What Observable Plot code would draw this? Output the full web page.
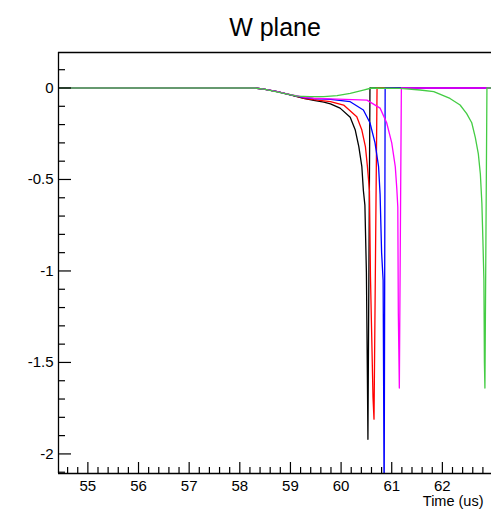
<!DOCTYPE html>
<html>
<head>
<meta charset="utf-8">
<script src="https://cdn.jsdelivr.net/npm/d3@7"></script>
<script src="https://cdn.jsdelivr.net/npm/@observablehq/plot@0.6"></script>
<style>
  html, body { margin: 0; padding: 0; background: #fff; }
  #chart { width: 491px; height: 515px; overflow: hidden; }
</style>
</head>
<body>
<div id="chart"></div>
<script>
// ---- data ----
const title = "W plane";
const xLabel = "Time (us)";

const blackT = [54.42, 58.3, 58.5, 58.74, 59.0, 59.26, 59.46, 59.66, 59.79, 59.98, 60.18, 60.28, 60.35, 60.41, 60.44, 60.47, 60.5, 60.52, 60.53, 60.57, 62.97];
const blackV = [0, 0, -0.008, -0.02, -0.038, -0.057, -0.068, -0.077, -0.087, -0.11, -0.16, -0.23, -0.32, -0.43, -0.56, -0.64, -1.01, -1.6, -1.92, 0, 0];

const redT = [54.42, 58.3, 58.5, 58.74, 59.0, 59.26, 59.46, 59.66, 59.79, 60.05, 60.31, 60.41, 60.48, 60.52, 60.56, 60.58, 60.63, 60.65, 60.71, 62.97];
const redV = [0, 0, -0.008, -0.02, -0.038, -0.056, -0.064, -0.07, -0.074, -0.093, -0.157, -0.23, -0.32, -0.43, -0.56, -1.03, -1.69, -1.81, 0, 0];

const blueT = [54.42, 58.3, 58.5, 58.74, 59.0, 59.26, 59.46, 59.79, 60.18, 60.44, 60.57, 60.67, 60.74, 60.77, 60.8, 60.83, 60.84, 60.85, 60.87, 62.97];
const blueV = [0, 0, -0.008, -0.02, -0.037, -0.052, -0.058, -0.062, -0.075, -0.12, -0.19, -0.3, -0.43, -0.58, -0.9, -1.05, -1.63, -2.3, 0, 0];

const magentaT = [54.42, 58.3, 58.5, 58.74, 59.0, 59.26, 59.46, 59.79, 60.51, 60.77, 60.9, 61.0, 61.07, 61.1, 61.12, 61.13, 61.14, 61.15, 61.19, 62.97];
const magentaV = [0, 0, -0.008, -0.02, -0.036, -0.05, -0.056, -0.06, -0.066, -0.11, -0.19, -0.3, -0.43, -0.55, -0.65, -1.23, -1.43, -1.64, 0, 0];

const greenT = [54.42, 58.3, 58.5, 58.87, 59.13, 59.39, 59.66, 59.92, 60.18, 60.44, 60.6, 61.17, 61.56, 61.83, 62.15, 62.35, 62.48, 62.58, 62.65, 62.71, 62.75, 62.78, 62.8, 62.82, 62.83, 62.84, 62.88, 62.97];
const greenV = [0, 0, -0.008, -0.029, -0.044, -0.047, -0.047, -0.042, -0.029, -0.011, 0, -0.002, -0.011, -0.02, -0.057, -0.093, -0.14, -0.19, -0.27, -0.36, -0.47, -0.63, -0.83, -1.05, -1.5, -1.64, 0, 0];

const seriesNames = ["s1", "s2", "s3", "s4", "s5"];
const seriesColors = ["#000000", "#ff0000", "#0000ff", "#ff00ff", "#44cc44"];

const xMajorTicks = [55, 56, 57, 58, 59, 60, 61, 62];
const xMinorTicks = [54.6, 54.8, 55.2, 55.4, 55.6, 55.8, 56.2, 56.4, 56.6, 56.8, 57.2, 57.4, 57.6, 57.8, 58.2, 58.4, 58.6, 58.8, 59.2, 59.4, 59.6, 59.8, 60.2, 60.4, 60.6, 60.8, 61.2, 61.4, 61.6, 61.8, 62.2, 62.4, 62.6, 62.8];
const yMajorTicks = [-2, -1.5, -1, -0.5, 0];
const yMinorTicks = [-2.1, -1.9, -1.8, -1.7, -1.6, -1.4, -1.3, -1.2, -1.1, -0.9, -0.8, -0.7, -0.6, -0.4, -0.3, -0.2, -0.1, 0.1];

const xDomain = [54.42, 62.97];
const yDomain = [-2.107, 0.194];

// ---- build table ----
const seriesT = [blackT, redT, blueT, magentaT, greenT];
const seriesV = [blackV, redV, blueV, magentaV, greenV];
const rows = [];
seriesNames.forEach((name, i) => {
  seriesT[i].forEach((t, j) => rows.push({series: name, t, v: seriesV[i][j]}));
});

const W = 491, H = 515;
const mL = 58, mR = 0, mT = 52, mB = 42;
const plotW = W - mL - mR, plotH = H - mT - mB;
const font = "'Liberation Sans', Arial, Helvetica, sans-serif";

const chart = Plot.plot({
  width: W,
  height: H,
  marginLeft: mL,
  marginRight: mR,
  marginTop: mT,
  marginBottom: mB,
  style: {fontFamily: font, fontSize: "15px", background: "#fff", color: "#000", overflow: "visible"},
  x: {domain: xDomain, axis: null},
  y: {domain: yDomain, axis: null},
  marks: [
    // curves, drawn in order (green last)
    ...seriesNames.map((name, i) =>
      Plot.line(rows.filter(d => d.series === name), {x: "t", y: "v", stroke: seriesColors[i], strokeWidth: 1.3, clip: true})
    ),
    // frame: left, top, bottom (right edge lies beyond the image)
    Plot.ruleX([xDomain[0]], {stroke: "#000", strokeWidth: 1.3}),
    Plot.ruleY([yDomain[0], yDomain[1]], {stroke: "#000", strokeWidth: 1.3}),
    // inward ticks
    Plot.tickX(xMajorTicks, {x: d => d, insetTop: plotH - 11, stroke: "#000", strokeWidth: 1.2}),
    Plot.tickX(xMinorTicks, {x: d => d, insetTop: plotH - 6, stroke: "#000", strokeWidth: 1.2}),
    Plot.tickY(yMajorTicks, {y: d => d, insetRight: plotW - 13, stroke: "#000", strokeWidth: 1.2}),
    Plot.tickY(yMinorTicks, {y: d => d, insetRight: plotW - 7, stroke: "#000", strokeWidth: 1.2}),
    // tick labels
    Plot.axisX(xMajorTicks, {tickSize: 0, tickPadding: 7, label: null, tickFormat: d => String(d), fontSize: 15}),
    Plot.axisY(yMajorTicks, {tickSize: 0, tickPadding: 5, label: null, tickFormat: d => String(d), fontSize: 15}),
    // axis title
    Plot.text([xLabel], {frameAnchor: "bottom-right", textAnchor: "end", dx: -8, dy: 32, fontSize: 14.5}),
    // chart title
    Plot.text([title], {frameAnchor: "top", dy: -34, fontSize: 25})
  ]
});

document.getElementById("chart").appendChild(chart);
</script>
</body>
</html>
